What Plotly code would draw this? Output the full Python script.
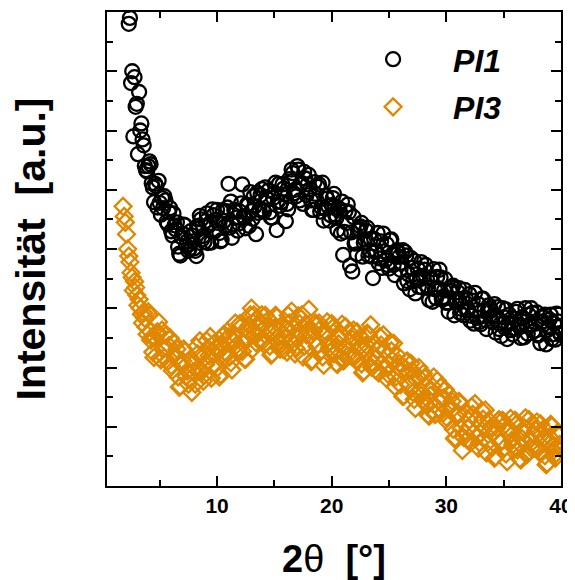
import numpy as np
import plotly.graph_objects as go

# 2-theta grids (degrees): readings on the even and the odd 0.1-degree steps
theta_even = np.round(np.arange(1.8, 40.0001, 0.2), 1)
theta_odd = np.round(np.arange(1.9, 39.9001, 0.2), 1)

# PI1 intensity (a.u.)
pi1_even = [
    960, 870, 812, 790, 700, 690, 645, 665, 612, 575,
    533, 540, 543, 504, 510, 470, 478, 486, 489, 446,
    462, 430, 460, 433, 404, 389, 426, 440, 413, 401,
    423, 401, 388, 435, 450, 422, 447, 410, 444, 467,
    430, 466, 427, 415, 447, 464, 510, 480, 441, 463,
    431, 463, 509, 452, 475, 439, 464, 489, 425, 461,
    491, 466, 504, 484, 462, 453, 495, 432, 510, 479,
    502, 447, 467, 514, 528, 500, 540, 482, 511, 530,
    491, 525, 482, 466, 493, 505, 463, 512, 468, 485,
    448, 474, 493, 452, 469, 426, 390, 464, 475, 372,
    362, 409, 391, 434, 444, 411, 431, 389, 417, 351,
    395, 427, 384, 368, 396, 408, 367, 416, 373, 390,
    394, 365, 398, 395, 346, 332, 368, 380, 351, 336,
    378, 353, 373, 334, 352, 311, 332, 353, 365, 316,
    330, 309, 294, 330, 338, 311, 327, 292, 316, 331,
    296, 324, 287, 274, 297, 307, 273, 316, 280, 296,
    300, 277, 307, 286, 265, 253, 285, 298, 274, 263,
    256, 282, 299, 268, 285, 251, 270, 289, 300, 261,
    274, 254, 241, 278, 289, 263, 281, 248, 274, 291,
    270, 255,
]
pi1_odd = [
    915, 845, 780, 680, 590, 640, 560, 600, 585, 540,
    531, 548, 511, 479, 506, 515, 458, 469, 482, 442,
    469, 423, 440, 445, 392, 420, 441, 406, 397, 430,
    413, 397, 439, 456, 416, 412, 460, 440, 411, 457,
    449, 444, 413, 465, 438, 470, 436, 419, 466, 453,
    443, 477, 455, 435, 474, 496, 451, 472, 495, 466,
    501, 463, 487, 499, 453, 486, 512, 480, 473, 509,
    492, 476, 518, 534, 494, 489, 534, 510, 476, 519,
    509, 501, 466, 513, 481, 509, 470, 448, 490, 472,
    457, 486, 458, 432, 465, 480, 429, 444, 462, 428,
    454, 411, 431, 438, 387, 416, 436, 398, 387, 417,
    396, 376, 413, 426, 381, 373, 415, 391, 356, 398,
    387, 377, 342, 389, 357, 385, 346, 325, 367, 349,
    335, 365, 339, 314, 349, 366, 317, 334, 352, 319,
    349, 310, 329, 335, 288, 315, 334, 299, 288, 317,
    298, 279, 313, 326, 284, 277, 316, 296, 265, 305,
    296, 288, 259, 302, 273, 300, 267, 248, 289, 275,
    265, 294, 272, 250, 283, 300, 257, 273, 292, 262,
    293, 256, 276, 285, 239, 268, 289, 256, 247, 278,
    258,
]

# PI3 intensity (a.u.)
pi3_even = [
    472, 445, 400, 378, 352, 345, 322, 315, 290, 292,
    268, 294, 246, 226, 250, 260, 216, 263, 217, 233,
    237, 203, 242, 215, 184, 168, 211, 227, 194, 180,
    158, 208, 235, 194, 220, 177, 205, 233, 252, 201,
    224, 199, 184, 239, 256, 224, 252, 208, 247, 275,
    231, 274, 227, 214, 251, 271, 300, 289, 242, 267,
    274, 245, 288, 263, 236, 223, 267, 285, 252, 239,
    230, 264, 288, 245, 269, 223, 249, 274, 289, 236,
    255, 298, 210, 261, 275, 239, 265, 218, 254, 277,
    233, 274, 223, 207, 240, 257, 211, 269, 220, 243,
    248, 218, 260, 234, 206, 193, 238, 255, 272, 207,
    196, 230, 252, 207, 228, 181, 205, 228, 241, 184,
    201, 171, 151, 199, 211, 172, 195, 146, 179, 200,
    153, 190, 138, 120, 153, 168, 121, 178, 128, 148,
    149, 116, 155, 127, 96, 81, 123, 139, 60, 89,
    78, 111, 134, 90, 112, 64, 89, 113, 128, 73,
    93, 65, 47, 98, 112, 76, 101, 54, 91, 114,
    70, 111, 61, 46, 80, 98, 53, 112, 64, 88,
    94, 63, 105, 80, 51, 38, 83, 101, 68, 55,
    85, 62,
]
pi3_odd = [
    455, 425, 388, 360, 330, 335, 305, 300, 275, 283,
    256, 289, 251, 217, 258, 277, 213, 232, 254, 210,
    250, 195, 222, 231, 167, 205, 231, 185, 172, 215,
    193, 172, 223, 245, 194, 187, 245, 220, 182, 240,
    233, 226, 188, 253, 219, 261, 218, 196, 256, 238,
    226, 269, 240, 214, 263, 289, 231, 256, 283, 245,
    289, 239, 269, 281, 221, 260, 288, 243, 231, 273,
    250, 226, 275, 295, 241, 232, 287, 259, 218, 273,
    263, 253, 212, 273, 236, 275, 229, 204, 260, 240,
    227, 267, 234, 205, 250, 273, 213, 235, 260, 219,
    263, 212, 240, 252, 191, 231, 258, 214, 200, 241,
    216, 191, 238, 255, 200, 189, 242, 212, 168, 221,
    207, 195, 152, 210, 171, 207, 158, 131, 185, 161,
    145, 183, 148, 118, 162, 184, 122, 144, 167, 123,
    163, 108, 134, 143, 80, 117, 143, 97, 82, 123,
    98, 73, 121, 139, 83, 73, 127, 98, 56, 111,
    100, 90, 49, 110, 73, 111, 65, 41, 97, 77,
    64, 104, 73, 44, 91, 115, 55, 79, 105, 64,
    108, 57, 86, 97, 36, 76, 104, 59, 47, 90,
    70,
]

x_ticks = [10, 20, 30, 40]
x_minor = [5, 15, 25, 35]
series_names = ["PI1", "PI3"]
BLACK = "#000000"
ORANGE = "#E08700"
FONT = "Liberation Sans, Arial, sans-serif"


def merged(x_a, y_a, x_b, y_b):
    x = np.concatenate([x_a, x_b])
    y = np.concatenate([np.asarray(y_a, float), np.asarray(y_b, float)])
    order = np.argsort(x, kind="stable")
    return x[order], y[order]


x1, y1 = merged(theta_even, pi1_even, theta_odd, pi1_odd)
x3, y3 = merged(theta_even, pi3_even, theta_odd, pi3_odd)

fig = go.Figure()
fig.add_trace(go.Scatter(
    x=x1, y=y1, mode="markers", name=series_names[0], legendgroup="a",
    marker=dict(symbol="circle-open", size=14, color=BLACK,
                line=dict(color=BLACK, width=2.3)),
))
fig.add_trace(go.Scatter(
    x=x3, y=y3, mode="markers", name=series_names[1], legendgroup="b",
    marker=dict(symbol="diamond-open", size=13, color=ORANGE,
                line=dict(color=ORANGE, width=2.3)),
))

axis_common = dict(
    showline=True, linecolor="black", linewidth=2, mirror="ticks",
    ticks="inside", tickcolor="black", tickwidth=2, ticklen=10,
    showgrid=False, zeroline=False,
)

fig.update_xaxes(
    range=[0.4, 40], tickvals=x_ticks, ticktext=[str(v) for v in x_ticks],
    tickfont=dict(family=FONT, size=21, color="black", weight="bold"),
    minor=dict(tickvals=x_minor, ticks="inside", ticklen=6,
               tickwidth=2, tickcolor="black"),
    title=dict(text="<b>2</b>θ<b>  [°]</b>",
               font=dict(family=FONT, size=38, color="black"), standoff=31),
    **axis_common,
)
fig.update_yaxes(
    range=[0, 800], dtick=100, tick0=0, showticklabels=False,
    minor=dict(dtick=50, ticks="inside", ticklen=6, tickwidth=2, tickcolor="black"),
    title=dict(text="Intensität  [a.u.]",
               font=dict(family=FONT, size=41, color="black", weight="bold"),
               standoff=47),
    **axis_common,
)

fig.update_layout(
    width=567, height=572,
    margin=dict(l=99, r=14, t=2, b=94),
    paper_bgcolor="white", plot_bgcolor="white",
    showlegend=True,
    legend=dict(
        x=0.498, y=0.958, xanchor="left", yanchor="top",
        bgcolor="rgba(0,0,0,0)", borderwidth=0,
        itemwidth=110, tracegroupgap=3,
        font=dict(family=FONT, size=32, color="black", weight="bold", style="italic"),
    ),
)

fig.write_html("out.html")
